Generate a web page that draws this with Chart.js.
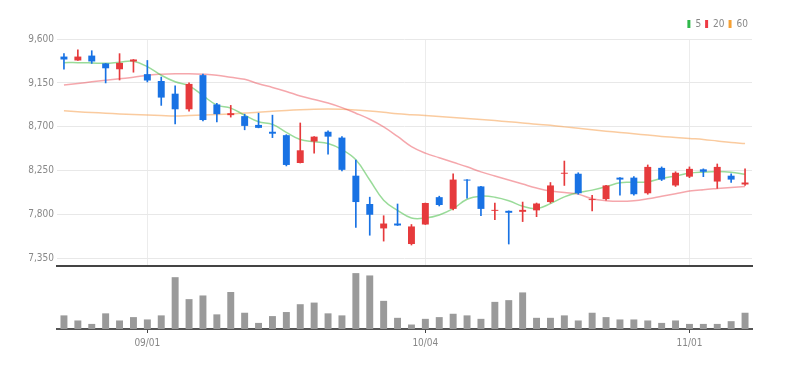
<!DOCTYPE html>
<html>
<head>
<meta charset="utf-8">
<script src="https://cdn.jsdelivr.net/npm/chart.js@4"></script>
<style>
  html, body { margin: 0; padding: 0; background: #fff; overflow: hidden; }
  #wrap { position: relative; width: 790px; height: 368px; }
  #priceChart { position: absolute; left: 0; top: 0; }
  #volumeChart { position: absolute; left: 0; top: 266px; }
</style>
</head>
<body>
<div id="wrap">
  <canvas id="priceChart" width="790" height="275"></canvas>
  <canvas id="volumeChart" width="790" height="102"></canvas>
</div>
<script>
// trading days, 2022
const dates = ['08/24','08/25','08/26','08/29','08/30','08/31','09/01','09/02','09/05','09/06',
  '09/07','09/08','09/13','09/14','09/15','09/16','09/19','09/20','09/21','09/22',
  '09/23','09/26','09/27','09/28','09/29','09/30','10/04','10/05','10/06','10/07',
  '10/11','10/12','10/13','10/14','10/17','10/18','10/19','10/20','10/21','10/24',
  '10/25','10/26','10/27','10/28','10/31','11/01','11/02','11/03','11/04','11/07']
const tickLabels = ['09/01', '10/04', '11/01']
const priceTicks = [7350, 7800, 8250, 8700, 9150, 9600]

const opens = [9420, 9380, 9430, 9350, 9290, 9370, 9240, 9170, 9040, 8880,
  9230, 8930, 8820, 8810, 8720, 8650, 8615, 8330, 8550, 8650,
  8590, 8200, 7910, 7660, 7710, 7500, 7700, 7980, 7860, 8160,
  8090, 7840, 7840, 7830, 7845, 7930, 8220, 8220, 7950, 7960,
  8180, 8180, 8020, 8280, 8100, 8190, 8265, 8140, 8200, 8110]
const closes = [9390, 9420, 9370, 9300, 9355, 9390, 9175, 9000, 8880, 9140,
  8770, 8830, 8840, 8710, 8690, 8630, 8310, 8460, 8600, 8600,
  8260, 7930, 7800, 7710, 7690, 7680, 7920, 7900, 8160, 8150,
  7860, 7850, 7820, 7850, 7915, 8100, 8230, 8020, 7960, 8100,
  8160, 8010, 8290, 8160, 8230, 8270, 8240, 8290, 8160, 8130]
const highs = [9450, 9490, 9480, 9350, 9450, 9390, 9380, 9210, 9120, 9150,
  9240, 8940, 8920, 8830, 8840, 8820, 8620, 8740, 8600, 8660,
  8600, 8360, 7980, 7790, 7910, 7700, 7920, 7990, 8220, 8160,
  8090, 7920, 7840, 7930, 7920, 8130, 8350, 8230, 8000, 8100,
  8180, 8190, 8310, 8290, 8240, 8290, 8270, 8320, 8220, 8270]
const lows = [9290, 9380, 9350, 9150, 9180, 9260, 9160, 8920, 8730, 8860,
  8760, 8750, 8800, 8670, 8690, 8590, 8300, 8330, 8430, 8420,
  8250, 7670, 7590, 7530, 7690, 7490, 7700, 7890, 7850, 7970,
  7790, 7750, 7500, 7730, 7780, 7920, 8100, 8010, 7840, 7950,
  8000, 8000, 8010, 8150, 8090, 8180, 8190, 8070, 8130, 8100]

const ma5 = [9358, 9358, 9355, 9351, 9362, 9372, 9317, 9229, 9162, 9120,
  9020, 8923, 8892, 8820, 8752, 8726, 8643, 8570, 8547, 8529,
  8467, 8363, 8156, 7949, 7845, 7767, 7767, 7798, 7862, 7959,
  7990, 7980, 7944, 7887, 7862, 7914, 7983, 8027, 8052, 8087,
  8128, 8132, 8138, 8173, 8197, 8225, 8236, 8242, 8236, 8215]
const ma20 = [9130, 9145, 9161, 9177, 9193, 9208, 9229, 9239, 9244, 9244,
  9239, 9229, 9208, 9187, 9141, 9104, 9063, 9016, 8980, 8944,
  8897, 8840, 8778, 8700, 8602, 8498, 8431, 8384, 8337, 8291,
  8239, 8197, 8156, 8114, 8073, 8042, 8027, 8011, 7964, 7944,
  7938, 7944, 7964, 7990, 8016, 8042, 8057, 8068, 8078, 8089]
const ma60 = [8864, 8855, 8847, 8840, 8833, 8826, 8821, 8816, 8812, 8816,
  8821, 8826, 8833, 8842, 8850, 8861, 8868, 8875, 8880, 8882,
  8880, 8873, 8863, 8850, 8835, 8825, 8816, 8806, 8796, 8785,
  8775, 8764, 8752, 8740, 8726, 8716, 8700, 8685, 8670, 8656,
  8643, 8630, 8616, 8602, 8592, 8581, 8571, 8555, 8540, 8529]

const volumes = [134000, 84000, 50000, 154000, 84000, 117000, 94000, 134000, 510000, 294000,
  330000, 144000, 364000, 160000, 60000, 127000, 167000, 244000, 260000, 154000,
  134000, 550000, 527000, 277000, 110000, 44000, 100000, 117000, 150000, 134000,
  100000, 267000, 284000, 360000, 110000, 110000, 134000, 84000, 160000, 117000,
  94000, 94000, 84000, 60000, 84000, 50000, 50000, 50000, 77000, 160000]

const maNames = ['5', '20', '60']
const FONT = "'Liberation Sans Narrow', 'DejaVu Sans Condensed', 'Liberation Sans', sans-serif"
const UP = '#e63a3c'
const DOWN = '#1872e4'
const legendColors = ['#2fb84a', '#ee3a44', '#f5a033']

const isLabeled = i => tickLabels.includes(dates[i])
const candleColor = opens.map((o, i) => closes[i] >= o ? UP : DOWN)

const priceChart = new Chart(document.getElementById('priceChart'), {
  type: 'bar',
  data: {
    labels: dates,
    datasets: [
      {
        label: 'body',
        data: opens.map((o, i) => [o, closes[i]]),
        backgroundColor: candleColor,
        barPercentage: 0.5,
        categoryPercentage: 1,
        grouped: false,
        order: 0
      },
      {
        label: 'wick',
        data: lows.map((l, i) => [l, highs[i]]),
        backgroundColor: candleColor,
        barThickness: 1,
        grouped: false,
        order: 1
      },
      {
        type: 'line', label: maNames[0], data: ma5,
        borderColor: 'rgba(70,190,70,0.55)', borderWidth: 1.5,
        pointRadius: 0, tension: 0.4, fill: false, order: 2
      },
      {
        type: 'line', label: maNames[1], data: ma20,
        borderColor: 'rgba(236,80,90,0.5)', borderWidth: 1.5,
        pointRadius: 0, tension: 0.4, fill: false, order: 3
      },
      {
        type: 'line', label: maNames[2], data: ma60,
        borderColor: 'rgba(245,160,80,0.55)', borderWidth: 1.5,
        pointRadius: 0, tension: 0.4, fill: false, order: 4
      }
    ]
  },
  options: {
    responsive: false,
    animation: false,
    layout: { padding: { left: 0, right: 38, top: 15, bottom: 3 } },
    plugins: {
      tooltip: { enabled: false },
      legend: {
        position: 'top',
        align: 'end',
        labels: {
          boxWidth: 3,
          boxHeight: 8,
          padding: 4,
          color: '#888',
          font: { family: FONT, size: 10 },
          generateLabels: () => maNames.map((n, k) => ({
            text: n,
            fillStyle: legendColors[k],
            strokeStyle: legendColors[k],
            lineWidth: 0,
            fontColor: '#888',
            datasetIndex: k + 2
          }))
        }
      }
    },
    scales: {
      x: {
        ticks: { display: false, autoSkip: false },
        grid: {
          offset: false,
          drawTicks: false,
          color: ctx => isLabeled(ctx.index) ? '#ececec' : 'rgba(0,0,0,0)'
        },
        border: { color: '#444', width: 2 }
      },
      y: {
        min: 7275,
        max: 9600,
        afterBuildTicks: s => { s.ticks = priceTicks.map(v => ({ value: v })) },
        afterFit: s => { s.width = 57 },
        ticks: {
          padding: 3,
          color: '#888',
          font: { family: FONT, size: 10 },
          callback: v => v.toLocaleString('en-US')
        },
        grid: { color: '#e8e8e8', drawTicks: false },
        border: { display: false }
      }
    }
  }
})

const volumeChart = new Chart(document.getElementById('volumeChart'), {
  type: 'bar',
  data: {
    labels: dates,
    datasets: [{
      label: 'volume',
      data: volumes,
      backgroundColor: '#9a9a9a',
      barPercentage: 0.5,
      categoryPercentage: 1
    }]
  },
  options: {
    responsive: false,
    animation: false,
    layout: { padding: { left: 57, right: 38, top: 0, bottom: 15 } },
    plugins: { legend: { display: false }, tooltip: { enabled: false } },
    scales: {
      x: {
        grid: {
          offset: false,
          drawOnChartArea: false,
          tickLength: 4,
          tickColor: ctx => isLabeled(ctx.index) ? '#444' : 'rgba(0,0,0,0)'
        },
        border: { color: '#555', width: 2 },
        ticks: {
          autoSkip: false,
          maxRotation: 0,
          padding: 4,
          color: '#888',
          font: { family: FONT, size: 10 },
          callback: (v, i) => isLabeled(i) ? dates[i] : ''
        }
      },
      y: { display: false, min: 0, max: 620000 }
    }
  }
})
</script>
</body>
</html>
